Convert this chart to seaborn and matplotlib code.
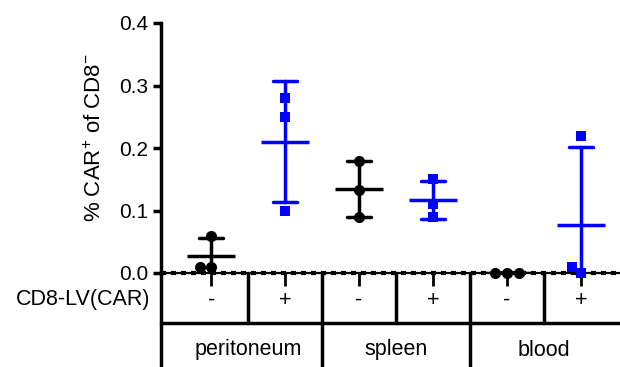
import matplotlib
matplotlib.use('Agg')
import matplotlib.pyplot as plt
import seaborn as sns
import pandas as pd
from matplotlib.transforms import blended_transform_factory

# ---- data ----
tissues = ['peritoneum', 'spleen', 'blood']
signs = ['-', '+']
peritoneum_neg = [0.06, 0.01, 0.01]
peritoneum_pos = [0.28, 0.25, 0.10]
spleen_neg = [0.18, 0.133, 0.09]
spleen_pos = [0.15, 0.11, 0.09]
blood_neg = [0.0, 0.0, 0.0]
blood_pos = [0.22, 0.01, 0.0]
row_label = 'CD8-LV(CAR)'
y_ticks = [0.0, 0.1, 0.2, 0.3, 0.4]
y_label = '% CAR$^{\\mathrm{+}}$ of CD8$^{\\mathrm{-}}$'

series = {
    ('peritoneum', '-'): peritoneum_neg, ('peritoneum', '+'): peritoneum_pos,
    ('spleen', '-'): spleen_neg, ('spleen', '+'): spleen_pos,
    ('blood', '-'): blood_neg, ('blood', '+'): blood_pos,
}
rows = []
for (t, s), vals in series.items():
    for v in vals:
        rows.append({'group': f'{t} {s}', 'tissue': t, 'sign': s, 'value': v})
df = pd.DataFrame(rows)
order = [f'{t} {s}' for t in tissues for s in signs]

sns.set_style('ticks')
plt.rcParams['font.family'] = ['Liberation Sans', 'DejaVu Sans']
plt.rcParams['mathtext.fontset'] = 'custom'
plt.rcParams['mathtext.rm'] = 'Liberation Sans'
plt.rcParams['mathtext.it'] = 'Liberation Sans:italic'
plt.rcParams['mathtext.bf'] = 'Liberation Sans:bold'
for key in ['text.color', 'axes.labelcolor', 'xtick.color', 'ytick.color',
            'xtick.labelcolor', 'ytick.labelcolor', 'axes.edgecolor']:
    plt.rcParams[key] = 'black'

BLUE = '#0000ff'
palette = {'-': 'black', '+': BLUE}
FS_TICK = 15
FS_TAB = 15.5
FS_YLAB = 16

fig = plt.figure(figsize=(6.2, 3.67), dpi=100)
ax = fig.add_axes([161 / 620, 94 / 367, 459 / 620, 250 / 367])

# mean +/- SD
sns.pointplot(data=df, x='group', y='value', hue='sign', order=order,
              palette=palette, errorbar='sd', capsize=0.33, markers='_',
              markersize=35, markeredgewidth=2.5, linestyle='none',
              err_kws={'linewidth': 2.5}, dodge=False, legend=False, ax=ax)

# individual points
sns.swarmplot(data=df[df['sign'] == '-'], x='group', y='value', order=order,
              color='black', marker='o', size=8, linewidth=0, ax=ax)
sns.swarmplot(data=df[df['sign'] == '+'], x='group', y='value', order=order,
              color=BLUE, marker='s', size=7.5, linewidth=0, ax=ax)

for art in list(ax.collections):
    art.set_clip_on(False)

# zero line
ax.axhline(0, color='black', lw=1.6, zorder=1, clip_on=False)
ax.axhline(0, color='black', lw=3, linestyle=(0, (1.2, 1.2)), zorder=1, clip_on=False)

ax.set_xlim(-0.68, 5.53)
ax.set_ylim(0, 0.4)
ax.set_yticks(y_ticks)
ax.set_yticklabels([f'{v:.1f}' for v in y_ticks])
ax.set_xticks(range(len(order)))
ax.set_xticklabels([''] * len(order))
ax.tick_params(axis='y', length=6, width=2.5, labelsize=FS_TICK, pad=3,
               color='black', labelcolor='black')
ax.tick_params(axis='x', length=9, width=2, color='black')
ax.set_xlabel('')
ax.set_ylabel(y_label, fontsize=FS_YLAB, color='black')
ax.yaxis.set_label_coords(-0.12, 0.54)

for side in ['top', 'right', 'bottom']:
    ax.spines[side].set_visible(False)
ax.spines['left'].set_linewidth(2.5)
ax.spines['left'].set_color('black')

# table below
trans = blended_transform_factory(ax.transData, ax.transAxes)
r1 = -0.2
r2 = -0.376
ax.plot([0, 0], [0, r2], color='black', lw=2.5, transform=ax.transAxes, clip_on=False)
ax.plot([0, 1], [r1, r1], color='black', lw=2.5, transform=ax.transAxes, clip_on=False)
for i in range(len(tissues)):
    x_mid = 2 * i + 0.5
    ax.plot([x_mid, x_mid], [0, r1], color='black', lw=2.5, transform=trans, clip_on=False)
    if i < len(tissues) - 1:
        x_b = 2 * i + 1.5
        ax.plot([x_b, x_b], [0, r2], color='black', lw=2.5, transform=trans, clip_on=False)
    ax.text(x_mid, (r1 + r2) / 2 - 0.02, tissues[i], transform=trans, ha='center',
            va='center', fontsize=FS_TAB, color='black')
for j, g in enumerate(order):
    ax.text(j, -0.108, g.split(' ')[1], transform=trans, ha='center', va='center',
            fontsize=FS_TAB, color='black')
ax.text(-0.024, -0.108, row_label, transform=ax.transAxes, ha='right', va='center',
        fontsize=FS_TAB, color='black')

fig.savefig('out.png', dpi=100)
